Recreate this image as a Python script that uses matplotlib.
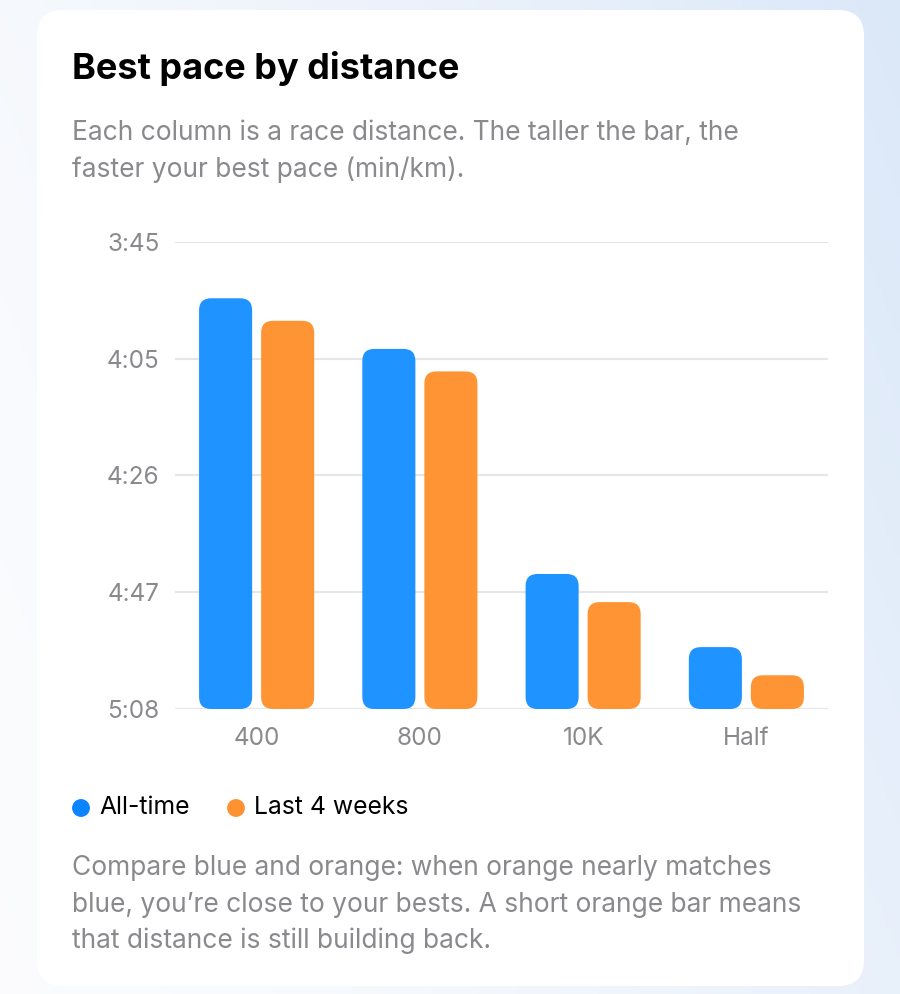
import matplotlib
matplotlib.use("Agg")
import matplotlib.pyplot as plt
import numpy as np
from matplotlib.patches import FancyBboxPatch
from matplotlib.ticker import FuncFormatter

plt.rcParams['font.family'] = ['Inter', 'DejaVu Sans']

# data: best pace (min:sec per km)
distances = ["400", "800", "10K", "Half"]
all_time = ["3:55", "4:04", "4:44", "4:57"]
last_4_weeks = ["3:59", "4:08", "4:49", "5:02"]
tick_labels = ["3:45", "4:05", "4:26", "4:47", "5:08"]
series_names = ["All-time", "Last 4 weeks"]


def to_sec(s):
    m, sec = s.split(":")
    return int(m) * 60 + int(sec)


def fmt_pace(v, pos=None):
    v = int(v)
    return f"{v // 60}:{v % 60:02d}"


blue = "#1F93FF"
orange = "#FF9434"
grey_txt = "#8A8A8E"

W, H = 900, 994
fig = plt.figure(figsize=(W / 100, H / 100), dpi=100)

# background gradient + card
bg = fig.add_axes([0, 0, 1, 1])
bg.set_axis_off()
gx = np.linspace(0, 1, 200)
gy = np.linspace(0, 1, 200)
GX, GY = np.meshgrid(gx, gy)
t = np.clip(0.7 * GX + 0.3 * GY, 0, 1) ** 1.5
c0 = np.array([0.985, 0.988, 0.995])
c1 = np.array([0.86, 0.91, 0.975])
img = c0[None, None, :] * (1 - t[..., None]) + c1[None, None, :] * t[..., None]
bg.imshow(img, extent=[0, W, 0, H], aspect="auto", origin="upper")
bg.set_xlim(0, W)
bg.set_ylim(H, 0)
card = FancyBboxPatch((37, 10), 827, 976, boxstyle="round,pad=0,rounding_size=26",
                      facecolor="white", edgecolor="none", zorder=2)
bg.add_patch(card)

# texts
fig.text(72 / W, 1 - 68 / H, "Best pace by distance", fontsize=26, fontweight="bold",
         color="black", va="center", ha="left")
fig.text(72 / W, 1 - 133 / H, "Each column is a race distance. The taller the bar, the",
         fontsize=19, color=grey_txt, va="center", ha="left")
fig.text(72 / W, 1 - 170 / H, "faster your best pace (min/km).",
         fontsize=19, color=grey_txt, va="center", ha="left")

foot = ["Compare blue and orange: when orange nearly matches",
        "blue, you\u2019re close to your bests. A short orange bar means",
        "that distance is still building back."]
for i, line in enumerate(foot):
    fig.text(72 / W, 1 - (868 + i * 36.5) / H, line, fontsize=19, color=grey_txt,
             va="center", ha="left")

# legend
fig.text(99 / W, 1 - 808 / H, series_names[0], fontsize=17.8, color="black", va="center")
fig.text(254 / W, 1 - 808 / H, series_names[1], fontsize=17.8, color="black", va="center")
bg.scatter([81, 236], [808, 808], s=140, c=["#0A84FF", "#FF9230"], zorder=3)

# chart
x0, x1, y0, y1 = 175, 828, 242, 709
ax = fig.add_axes([x0 / W, 1 - y1 / H, (x1 - x0) / W, (y1 - y0) / H])
ax.set_facecolor("none")
ticks = [to_sec(s) for s in tick_labels]
base = ticks[-1]
ax.set_ylim(base, ticks[0])
ax.set_xlim(-0.5, len(distances) - 0.5)
ax.set_yticks(np.linspace(ticks[0], ticks[-1], 5))
ax.yaxis.set_major_formatter(FuncFormatter(fmt_pace))
ax.set_xticks(range(len(distances)))
ax.set_xticklabels(distances)
ax.tick_params(length=0, labelsize=17.5, labelcolor=grey_txt)
ax.tick_params(axis="x", pad=13)
ax.tick_params(axis="y", pad=11)
for s in ax.spines.values():
    s.set_visible(False)
ax.grid(axis="y", color="#E5E5EA", lw=1.5)
ax.set_axisbelow(True)

xs = np.arange(len(distances))
bw = 0.325
off = 0.19
fig.canvas.draw()
for vals, col, dx in [(all_time, blue, -off), (last_4_weeks, orange, off)]:
    secs = np.array([to_sec(v) for v in vals])
    bars = ax.bar(xs + dx, secs - base, bottom=base, width=bw, color=col, alpha=0)
    for b in bars:
        (px0, py0), (px1, py1) = ax.transData.transform(
            [(b.get_x(), base), (b.get_x() + b.get_width(), base + b.get_height())])
        lo, hi = min(py0, py1), max(py0, py1)
        fig.patches.append(FancyBboxPatch(
            (px0, lo), px1 - px0, hi - lo, boxstyle="round,pad=0,rounding_size=12",
            facecolor=col, edgecolor="none", transform=None, figure=fig, zorder=3))

fig.savefig("out.png", dpi=100)
